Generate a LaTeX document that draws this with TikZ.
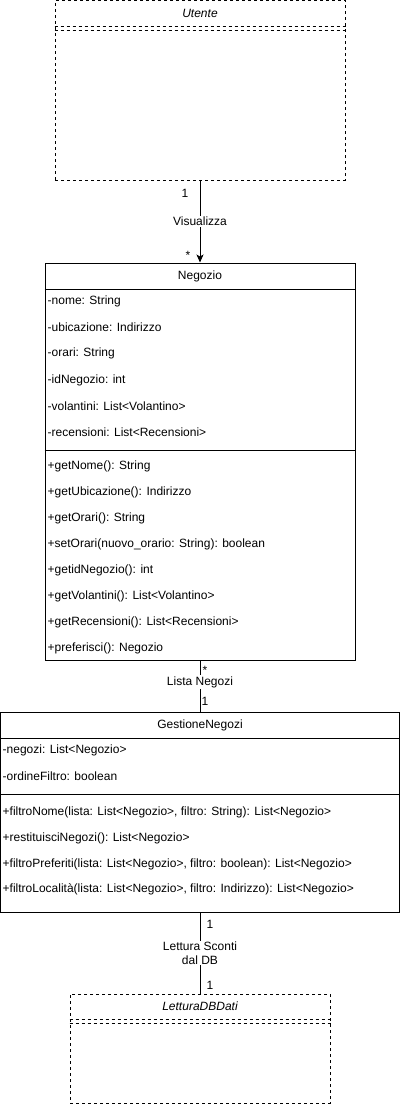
\documentclass[tikz,border=0pt]{standalone}
\usepackage{fontspec}
\setmainfont{Liberation Sans}
\usetikzlibrary{arrows.meta}

\begin{document}
\begin{tikzpicture}[x=1pt,y=-1pt,
  every node/.style={font=\fontsize{12}{14}\selectfont},
  classbox/.style={draw, line width=1pt, inner sep=0pt},
  ifacebox/.style={draw, line width=1pt, dash pattern=on 3pt off 3pt, inner sep=0pt},
  member/.style={anchor=west, inner sep=0pt},
  assoclabel/.style={fill=white, inner sep=1pt, align=center},
  mult/.style={inner sep=0pt}]
\useasboundingbox (0,0) rectangle (401,1104);
%%% Utente
\node[ifacebox, minimum width=290pt, minimum height=179.5pt] (utente) at (200,90.25) {};
\node (utentename) at (200,13) {\itshape Utente};
\draw[line width=1pt, dash pattern=on 3pt off 3pt] (utente.west |- 0,26) -- (utente.east |- 0,26);
\draw[line width=1pt, dash pattern=on 3pt off 3pt] (utente.west |- 0,30) -- (utente.east |- 0,30);
%%% Negozio
\node[classbox, minimum width=310pt, minimum height=397pt] (negozio) at (200,461.5) {};
\node (negozioname) at (200,276) {Negozio};
\draw[line width=1pt] (negozio.west |- 0,289) -- (negozio.east |- 0,289);
% attributes
\node[member] (nome) at (47.5,301) {-nome: String};
\node[member] (ubicazione) at (47.5,327) {-ubicazione: Indirizzo};
\node[member] (orari) at (47.5,353.5) {-orari: String};
\node[member] (idnegozio) at (47.5,380) {-idNegozio: int};
\node[member] (volantini) at (47.5,406) {-volantini: List<Volantino>};
\node[member] (recensioni) at (47.5,432) {-recensioni: List<Recensioni>};
\draw[line width=1pt] (negozio.west |- 0,450) -- (negozio.east |- 0,450);
% methods
\node[member] (getnome) at (47.5,466.5) {+getNome(): String};
\node[member] (getubicazione) at (47.5,492.5) {+getUbicazione(): Indirizzo};
\node[member] (getorari) at (47.5,518.5) {+getOrari(): String};
\node[member] (setorari) at (47.5,544.5) {+setOrari(nuovo\_orario: String): boolean};
\node[member] (getidnegozio) at (47.5,570.5) {+getidNegozio(): int};
\node[member] (getvolantini) at (47.5,596.5) {+getVolantini(): List<Volantino>};
\node[member] (getrecensioni) at (47.5,622.5) {+getRecensioni(): List<Recensioni>};
\node[member] (preferisci) at (47.5,648.5) {+preferisci(): Negozio};
%%% GestioneNegozi
\node[classbox, minimum width=399pt, minimum height=200pt] (gestione) at (200,812) {};
\node (gestionename) at (200,725) {GestioneNegozi};
\draw[line width=1pt] (gestione.west |- 0,738) -- (gestione.east |- 0,738);
\node[member] (negozi) at (2.5,750) {-negozi: List<Negozio>};
\node[member] (ordinefiltro) at (2.5,776) {-ordineFiltro: boolean};
\draw[line width=1pt] (gestione.west |- 0,794) -- (gestione.east |- 0,794);
\node[member] (filtronome) at (2.5,812) {+filtroNome(lista: List<Negozio>, filtro: String): List<Negozio>};
\node[member] (restituisci) at (2.5,838) {+restituisciNegozi(): List<Negozio>};
\node[member] (filtropreferiti) at (2.5,864) {+filtroPreferiti(lista: List<Negozio>, filtro: boolean): List<Negozio>};
\node[member] (filtrolocalita) at (2.5,889.5) {+filtroLocalità(lista: List<Negozio>, filtro: Indirizzo): List<Negozio>};
%%% LetturaDBDati
\node[ifacebox, minimum width=260pt, minimum height=109pt] (lettura) at (200,1048.5) {};
\node (letturaname) at (200,1006) {\itshape LetturaDBDati};
\draw[line width=1pt, dash pattern=on 3pt off 3pt] (lettura.west |- 0,1019) -- (lettura.east |- 0,1019);
\draw[line width=1pt, dash pattern=on 3pt off 3pt] (lettura.west |- 0,1023) -- (lettura.east |- 0,1023);
%%% associations
\draw[line width=1pt, -{Stealth[length=8pt, width=7pt, inset=2pt]}] (utente) -- (negozio)
  node[assoclabel, pos=0.5] (visualizza) {Visualizza};
\node[mult] (utentemult) at (185,193) {1};
\node[mult] (negoziomult) at (188,255) {*};
\draw[line width=1pt] (negozio) -- (gestione)
  node[assoclabel, pos=0.42] (listanegozi) {Lista Negozi};
\node[mult] (negoziomultb) at (205,670) {*};
\node[mult] (gestionemult) at (205,701) {1};
\draw[line width=1pt] (gestione) -- (lettura)
  node[assoclabel, pos=0.5] (letturasconti) {Lettura Sconti\\dal DB};
\node[mult] (gestionemultb) at (210,924) {1};
\node[mult] (letturamult) at (210,985) {1};
\end{tikzpicture}
\end{document}
